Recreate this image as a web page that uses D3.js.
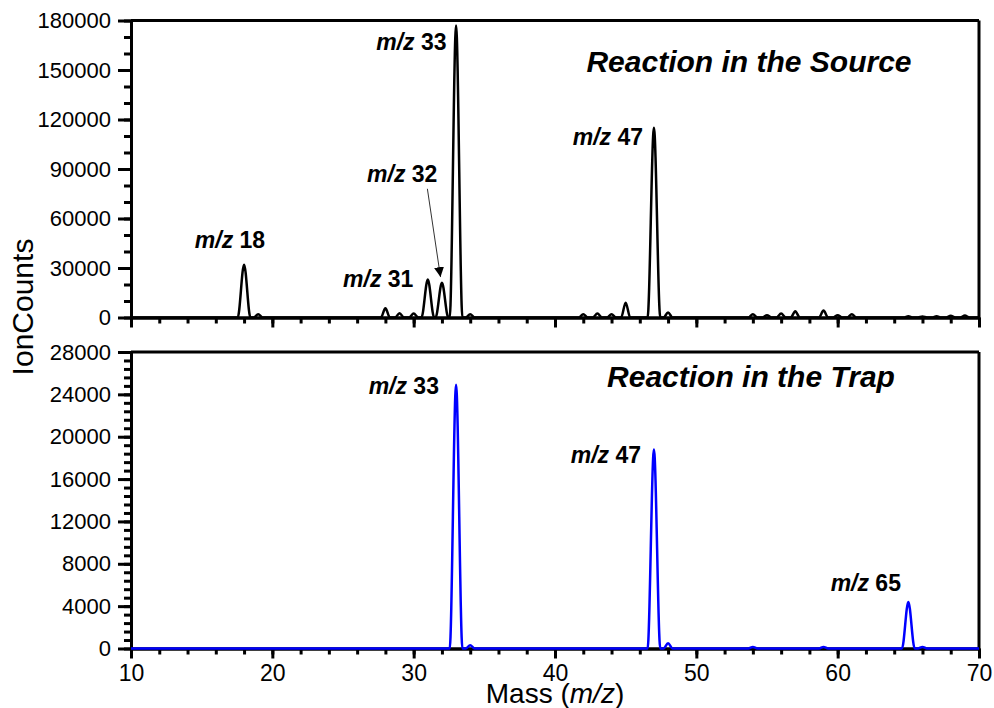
<!DOCTYPE html>
<html>
<head>
<meta charset="utf-8">
<script src="https://cdn.jsdelivr.net/npm/d3@7"></script>
<style>
  body { margin: 0; background: #fff; }
  svg { font-family: "Liberation Sans", Arial, sans-serif; }
  .axis path, .axis line { stroke: #000; stroke-width: 3; }
  .axis text { font-size: 22px; fill: #000; }
  .note { font-size: 23px; font-weight: bold; }
  .title { font-size: 30px; font-weight: bold; font-style: italic; }
</style>
</head>
<body>
<script>
// peak centroids (mass, ion counts)
var sourceMz = [18, 19, 28, 29, 30, 31, 32, 33, 34, 42, 43, 44, 45, 47, 48, 54, 55, 56, 57, 59, 60, 61, 65, 66, 67, 68, 69];
var sourceCounts = [32000, 2000, 5600, 2600, 2400, 23000, 21000, 177000, 2000, 2000, 2400, 2000, 9000, 115000, 3000, 2000, 1400, 2400, 3800, 4200, 1400, 2000, 800, 600, 800, 1000, 1200];

var trapMz = [33, 34, 47, 48, 54, 59, 65, 66];
var trapCounts = [24900, 300, 18800, 500, 150, 150, 4400, 150];

// tick values
var xMajor = [10, 20, 30, 40, 50, 60, 70];
var topMajor = [0, 30000, 60000, 90000, 120000, 150000, 180000];
var bottomMajor = [0, 4000, 8000, 12000, 16000, 20000, 24000, 28000];

// labels: [text number, mass at right edge, counts at baseline]
var sourceNotes = [["33", 32.33, 162000], ["32", 31.68, 82000], ["31", 29.98, 18500], ["18", 19.49, 42000], ["47", 46.23, 104500]];
var trapNotes = [["33", 31.79, 24000], ["47", 46.09, 17500], ["65", 64.48, 5400]];

var svg = d3.select("body").append("svg")
  .attr("width", 994)
  .attr("height", 708);

var x = d3.scaleLinear().domain([10, 70]).range([131, 979]);
var yTop = d3.scaleLinear().domain([0, 180000]).range([317.5, 20.5]);
var yBot = d3.scaleLinear().domain([0, 28000]).range([648.5, 352]);

// turn peak list into a profile: zero baseline either side of each peak
function profile(mz, counts, big) {
  var pts = [[10, 0]];
  mz.forEach(function(m, i) {
    var w = counts[i] > big ? 0.45 : 0.32;
    pts.push([m - w, 0], [m, counts[i]], [m + w, 0]);
  });
  pts.push([70, 0]);
  return pts;
}

function panel(y, major, minorStep, showX) {
  var g = svg.append("g");

  // frame top and right
  g.append("line").attr("x1", x(10)).attr("x2", x(70))
    .attr("y1", y.range()[1]).attr("y2", y.range()[1])
    .attr("stroke", "#000").attr("stroke-width", 3);
  g.append("line").attr("x1", x(70)).attr("x2", x(70))
    .attr("y1", y.range()[1]).attr("y2", y.range()[0])
    .attr("stroke", "#000").attr("stroke-width", 3);

  // y axis
  g.append("g").attr("class", "axis")
    .attr("transform", `translate(${x(10)},0)`)
    .call(d3.axisLeft(y).tickValues(d3.range(0, y.domain()[1] + 1, minorStep))
      .tickSize(7).tickSizeOuter(0).tickFormat(""));
  g.append("g").attr("class", "axis")
    .attr("transform", `translate(${x(10)},0)`)
    .call(d3.axisLeft(y).tickValues(major).tickSize(13).tickSizeOuter(0)
      .tickPadding(7).tickFormat(d3.format("d")));

  // x axis
  g.append("g").attr("class", "axis")
    .attr("transform", `translate(0,${y(0)})`)
    .call(d3.axisBottom(x).tickValues(d3.range(10, 71, 2)).tickSize(6).tickSizeOuter(0).tickFormat(""));
  var xa = d3.axisBottom(x).tickValues(xMajor).tickSize(10).tickSizeOuter(0).tickPadding(6);
  if (!showX) xa.tickFormat("");
  g.append("g").attr("class", "axis xlab")
    .attr("transform", `translate(0,${y(0)})`)
    .call(xa);
  return g;
}

panel(yTop, topMajor, 10000, false);
panel(yBot, bottomMajor, 800, true);

svg.selectAll(".xlab text").style("font-size", "23px");

// traces
svg.append("path")
  .datum(profile(sourceMz, sourceCounts, 15000))
  .attr("fill", "none")
  .attr("stroke", "#000")
  .attr("stroke-width", 2.5)
  .attr("d", d3.line().x(d => x(d[0])).y(d => yTop(d[1])).curve(d3.curveMonotoneX));

svg.append("path")
  .datum(profile(trapMz, trapCounts, 1000))
  .attr("fill", "none")
  .attr("stroke", "#0000ff")
  .attr("stroke-width", 2.5)
  .attr("d", d3.line().x(d => x(d[0])).y(d => yBot(d[1])).curve(d3.curveMonotoneX));

// peak labels
function notes(list, y) {
  list.forEach(function(n) {
    var t = svg.append("text").attr("class", "note")
      .attr("x", x(n[1])).attr("y", y(n[2]))
      .attr("text-anchor", "end");
    t.append("tspan").style("font-style", "italic").text("m/z");
    t.append("tspan").text(" " + n[0]);
  });
}
notes(sourceNotes, yTop);
notes(trapNotes, yBot);

// arrow to m/z 32
svg.append("defs").append("marker")
  .attr("id", "head")
  .attr("viewBox", "0 0 10 10")
  .attr("refX", 10).attr("refY", 5)
  .attr("markerWidth", 10).attr("markerHeight", 10)
  .attr("markerUnits", "userSpaceOnUse")
  .attr("orient", "auto")
  .append("path").attr("d", "M0,0L10,5L0,10Z").attr("fill", "#000");

svg.append("line")
  .attr("x1", x(30.97)).attr("y1", yTop(78000))
  .attr("x2", x(31.9)).attr("y2", yTop(24500))
  .attr("stroke", "#333").attr("stroke-width", 1)
  .attr("marker-end", "url(#head)");

// panel titles
svg.append("text").attr("class", "title")
  .attr("x", 749).attr("y", 72).attr("text-anchor", "middle")
  .text("Reaction in the Source");
svg.append("text").attr("class", "title")
  .attr("x", 751).attr("y", 387).attr("text-anchor", "middle")
  .text("Reaction in the Trap");

// axis titles
var xt = svg.append("text")
  .attr("x", 555).attr("y", 703)
  .attr("text-anchor", "middle")
  .style("font-size", "28px");
xt.append("tspan").text("Mass (");
xt.append("tspan").style("font-style", "italic").text("m/z");
xt.append("tspan").text(")");

svg.append("text")
  .attr("transform", "translate(33,307) rotate(-90)")
  .attr("text-anchor", "middle")
  .style("font-size", "30px")
  .text("IonCounts");
</script>
</body>
</html>
